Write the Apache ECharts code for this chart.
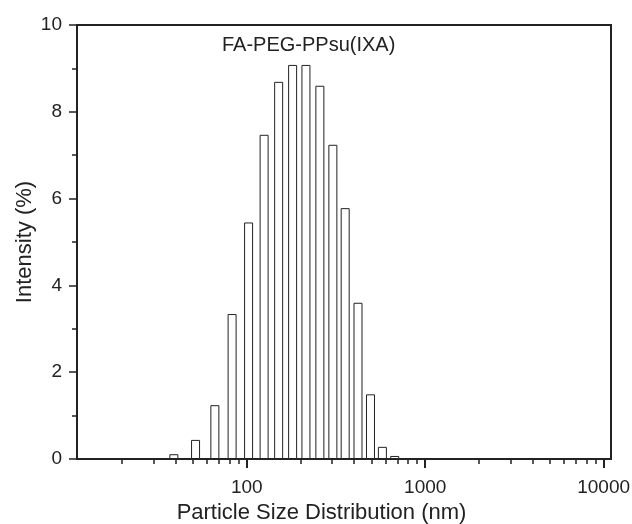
<!DOCTYPE html>
<html>
<head>
<meta charset="utf-8">
<script src="https://cdn.jsdelivr.net/npm/echarts@6/dist/echarts.min.js"></script>
<style>
html,body{margin:0;padding:0;background:#fff;}
#chart{width:632px;height:524px;}
</style>
</head>
<body>
<div id="chart"></div>
<script>
// Particle size bins (nm) and intensity (%)
const sizes = [39.0, 51.6, 66.2, 82.7, 102.3, 125.0, 150.8, 180.6, 214.5, 256.7, 303.6, 355.9, 419.9, 493.4, 575.4, 674.5];
const intensity = [0.11, 0.44, 1.24, 3.34, 5.45, 7.47, 8.69, 9.08, 9.08, 8.60, 7.24, 5.78, 3.60, 1.49, 0.28, 0.07];
const xTickLabels = [100, 1000, 10000];
const xMinorTicks = [20, 30, 40, 50, 60, 70, 80, 90, 200, 300, 400, 500, 600, 700, 800, 900, 2000, 3000, 4000, 5000, 6000, 7000, 8000, 9000];
const xRange = [11.17, 11000];
const yRange = [0, 10];
const sampleName = 'FA-PEG-PPsu(IXA)';
const xTitle = 'Particle Size Distribution (nm)';
const yTitle = 'Intensity (%)';

const FONT = '"Liberation Sans", Arial, sans-serif';
const INK = '#222';
const lg = v => Math.log10(v);

const chart = echarts.init(document.getElementById('chart'), null, {renderer: 'canvas'});
chart.setOption({
  animation: false,
  backgroundColor: '#fff',
  textStyle: {fontFamily: FONT, color: INK},
  title: {
    text: sampleName,
    left: 222, top: 35, padding: 0,
    textStyle: {fontFamily: FONT, fontSize: 20, fontWeight: 'normal', color: INK}
  },
  grid: {
    left: 77, right: 21, top: 25, bottom: 65,
    containLabel: false, outerBoundsMode: 'none',
    show: true, borderColor: INK, borderWidth: 2, backgroundColor: 'transparent'
  },
  xAxis: [
    {
      type: 'value',
      min: lg(xRange[0]), max: lg(xRange[1]),
      position: 'bottom',
      axisLine: {show: true, lineStyle: {color: INK, width: 2}},
      axisTick: {show: true, inside: false, length: 9, lineStyle: {color: INK, width: 2},
        customValues: xTickLabels.map(lg)},
      axisLabel: {show: true, margin: 19, fontSize: 19, color: INK, fontFamily: FONT,
        customValues: xTickLabels.map(lg),
        formatter: v => String(Math.round(Math.pow(10, v)))},
      splitLine: {show: false},
      name: xTitle, nameLocation: 'middle', nameGap: 40,
      nameTextStyle: {fontSize: 22, color: INK, fontFamily: FONT, padding: [0, 45, 0, 0]}
    },
    {
      type: 'value',
      min: lg(xRange[0]), max: lg(xRange[1]),
      position: 'bottom',
      axisLine: {show: false},
      axisTick: {show: true, inside: false, length: 5, lineStyle: {color: INK, width: 1.5},
        customValues: xMinorTicks.map(lg)},
      axisLabel: {show: false},
      splitLine: {show: false}
    }
  ],
  yAxis: {
    type: 'value',
    min: yRange[0], max: yRange[1], interval: 2,
    axisLine: {show: true, lineStyle: {color: INK, width: 2}},
    axisTick: {show: true, inside: false, length: 8, lineStyle: {color: INK, width: 1.5}},
    minorTick: {show: true, splitNumber: 2, length: 5, lineStyle: {color: INK, width: 1.5}},
    axisLabel: {margin: 15, fontSize: 19, color: INK, fontFamily: FONT},
    splitLine: {show: false},
    name: yTitle, nameLocation: 'middle', nameGap: 41, nameMoveOverlap: false,
    nameTextStyle: {fontSize: 22, color: INK, fontFamily: FONT}
  },
  series: [{
    type: 'bar',
    xAxisIndex: 0,
    barWidth: 9,
    data: sizes.map((s, i) => [lg(s), intensity[i]]),
    itemStyle: {color: '#fff', borderColor: INK, borderWidth: 1}
  }]
});
</script>
</body>
</html>
